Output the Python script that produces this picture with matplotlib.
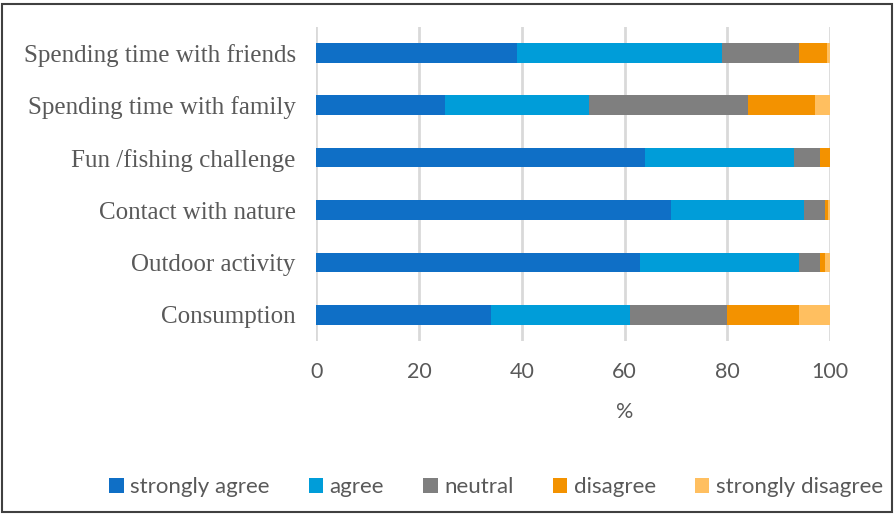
import matplotlib
matplotlib.use("Agg")
from matplotlib import pyplot as plt
from matplotlib.patches import Rectangle
import numpy as np

# survey motives, top to bottom
categories = ["Spending time with friends", "Spending time with family",
              "Fun /fishing challenge", "Contact with nature",
              "Outdoor activity", "Consumption"]
levels = ["strongly agree", "agree", "neutral", "disagree", "strongly disagree"]

strongly_agree = [39, 25, 64, 69, 63, 34]
agree = [40, 28, 29, 26, 31, 27]
neutral = [15, 31, 5, 4, 4, 19]
disagree = [5.5, 13, 2, 0.6, 1, 14]
strongly_disagree = [0.5, 3, 0, 0.4, 1, 6]

colors = ["#0F6FC6", "#009DD9", "#7F7F7F", "#F39200", "#FFBF60"]
xticks = [0, 20, 40, 60, 80, 100]
txt = "#595959"

fig = plt.figure(figsize=(8.95, 5.15), dpi=100)
ax = fig.add_axes([316.5/895, 1 - 341/515, 513.5/895, 314.3/515])

y = np.arange(len(categories))[::-1]
left = np.zeros(len(categories))
for vals, name, c in zip([strongly_agree, agree, neutral, disagree, strongly_disagree], levels, colors):
    ax.barh(y, vals, left=left, height=0.375, color=c, label=name, zorder=3)
    left += np.array(vals)

ax.set_xlim(0, 100)
ax.set_ylim(-0.5, 5.5)
ax.set_xticks(xticks)
ax.set_yticks(y)
ax.set_yticklabels(categories, family="Liberation Serif", fontsize=18, color=txt)
for lbl in ax.get_xticklabels():
    lbl.set_family("Lato")
ax.tick_params(axis="x", length=0, pad=15, labelsize=15.5, labelcolor=txt)
ax.tick_params(axis="y", length=0, pad=15)
ax.xaxis.grid(True, color="#D9D9D9", linewidth=2, zorder=0)
for s in ax.spines.values():
    s.set_visible(False)

# axis title sits under the 60 tick
ax.set_xlabel("%", family="Lato", fontsize=15.5, color=txt)
ax.xaxis.set_label_coords(0.6, -0.195)

fig.legend(loc="center", bbox_to_anchor=(496/895, 1 - 487/515), ncol=5, frameon=False,
           prop={"family": "Lato", "size": 16}, labelcolor=txt,
           handlelength=0.65, handleheight=0.65, handletextpad=0.3, columnspacing=1.75)

fig.patches.append(Rectangle((2/895, 3/515), 890/895, 508/515, transform=fig.transFigure,
                             fill=False, edgecolor="#404040", linewidth=1.5))

fig.savefig("out.png", dpi=100)
